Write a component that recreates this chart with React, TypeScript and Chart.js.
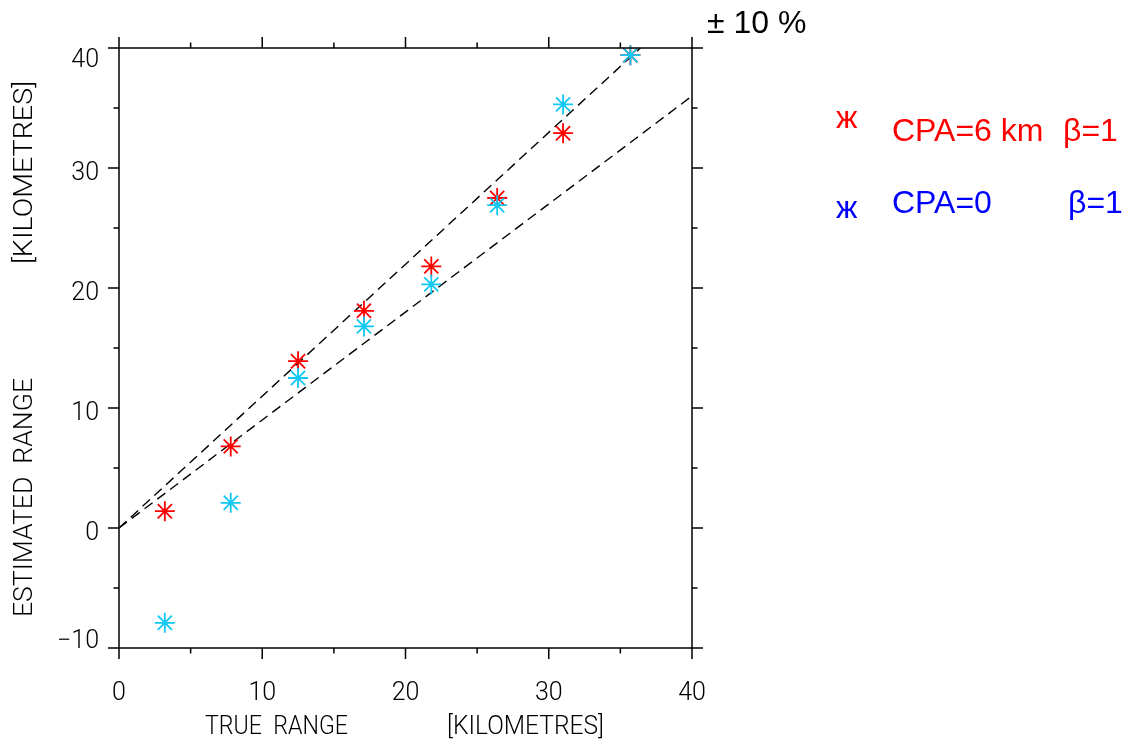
import { useEffect, useRef } from 'react';
import { Chart, registerables } from 'chart.js';

Chart.register(...registerables);

// ---- data ----
const trueRange = [3.2, 7.8, 12.5, 17.1, 21.8, 26.4, 31.0, 35.7];
const estimatedCpa6 = [1.4, 6.8, 13.9, 18.1, 21.8, 27.5, 32.9, 39.4];
const estimatedCpa0 = [-7.9, 2.1, 12.5, 16.8, 20.3, 26.9, 35.3, 39.4];

const upperBoundX = [0, 36.4];
const upperBoundY = [0, 40];
const lowerBoundX = [0, 40];
const lowerBoundY = [0, 36];

const xMajorTicks = [0, 10, 20, 30, 40];
const xMinorTicks = [5, 15, 25, 35];
const yMajorTicks = [-10, 0, 10, 20, 30, 40];
const yMinorTicks = [-5, 5, 15, 25, 35];
const xTickLabels = ['0', '10', '20', '30', '40'];
const yTickLabels = ['\u221210', '0', '10', '20', '30', '40'];

const legendNames = ['CPA=6 km', 'CPA=0'];
const legendBetas = ['\u03b2=1', '\u03b2=1'];
const boundsLabel = '\u00b1 10 %';
const xTitleParts = ['TRUE  RANGE', '[KILOMETRES]'];
const yTitleParts = ['ESTIMATED  RANGE', '[KILOMETRES]'];

const RED = '#ff0000';
const CYAN = '#10c8f4';
const BLUE = '#0000ff';
const AXIS_FONT = '300 25px Roboto, "DejaVu Sans", sans-serif';
const TITLE_FONT = '300 25px Roboto, "DejaVu Sans", sans-serif';
const LEGEND_FONT = '32px "Liberation Sans", Arial, sans-serif';

function fitText(ctx: CanvasRenderingContext2D, text: string, x: number, y: number, w: number) {
  const m = ctx.measureText(text).width;
  ctx.save();
  ctx.translate(x, y);
  ctx.scale(w / m, 1);
  ctx.fillText(text, 0, 0);
  ctx.restore();
}

const framePlugin = {
  id: 'framePlugin',
  afterDraw(chart: any) {
    const ctx: CanvasRenderingContext2D = chart.ctx;
    const { left, right, top, bottom } = chart.chartArea;
    const xs = chart.scales.x;
    const ys = chart.scales.y;
    const MAJ = 11;
    const MIN = 5.5;
    ctx.save();
    ctx.strokeStyle = '#000';
    ctx.lineWidth = 1.5;
    ctx.lineCap = 'butt';
    ctx.beginPath();
    ctx.rect(left, top, right - left, bottom - top);
    const tickX = (v: number, len: number) => {
      const px = xs.getPixelForValue(v);
      ctx.moveTo(px, bottom);
      ctx.lineTo(px, bottom + len);
      ctx.moveTo(px, top);
      ctx.lineTo(px, top - len);
    };
    const tickY = (v: number, len: number) => {
      const py = ys.getPixelForValue(v);
      ctx.moveTo(left, py);
      ctx.lineTo(left - len, py);
      ctx.moveTo(right, py);
      ctx.lineTo(right + len, py);
    };
    xMajorTicks.forEach((v) => tickX(v, MAJ));
    xMinorTicks.forEach((v) => tickX(v, MIN));
    yMajorTicks.forEach((v) => tickY(v, MAJ));
    yMinorTicks.forEach((v) => tickY(v, MIN));
    ctx.stroke();

    // tick labels
    ctx.fillStyle = '#000';
    ctx.font = AXIS_FONT;
    ctx.textBaseline = 'alphabetic';
    ctx.textAlign = 'center';
    xMajorTicks.forEach((v, i) => {
      ctx.fillText(xTickLabels[i], xs.getPixelForValue(v), 700);
    });
    ctx.textAlign = 'right';
    const capH = 18;
    yMajorTicks.forEach((v, i) => {
      const py = ys.getPixelForValue(v);
      let base = py + 11.5;
      if (base - capH < top) base = top + capH + 1;
      if (base > bottom) base = bottom;
      ctx.fillText(yTickLabels[i], 99, base);
    });

    // axis titles
    ctx.font = TITLE_FONT;
    ctx.textAlign = 'left';
    fitText(ctx, xTitleParts[0], 205, 734, 143);
    fitText(ctx, xTitleParts[1], 447, 734, 157);
    ctx.save();
    ctx.translate(32, 617);
    ctx.rotate(-Math.PI / 2);
    fitText(ctx, yTitleParts[0], 0, 0, 239);
    ctx.restore();
    ctx.save();
    ctx.translate(32, 264);
    ctx.rotate(-Math.PI / 2);
    fitText(ctx, yTitleParts[1], 0, 0, 183);
    ctx.restore();

    // bounds label
    ctx.font = LEGEND_FONT;
    ctx.fillStyle = '#000';
    ctx.fillText(boundsLabel, 707, 33);

    // legend
    const rows = [
      { color: RED, symY: 128, textY: 141, betaX: 1063 },
      { color: BLUE, symY: 218, textY: 213, betaX: 1068 },
    ];
    rows.forEach((r, i) => {
      ctx.fillStyle = r.color;
      ctx.fillText('\u0436', 836, r.symY);
      ctx.fillText(legendNames[i], 892, r.textY);
      ctx.fillText(legendBetas[i], r.betaX, r.textY);
    });
    ctx.restore();
  },
};

export default function App() {
  const ref = useRef<HTMLCanvasElement | null>(null);
  useEffect(() => {
    if (!ref.current) return;
    const pts = (xsArr: number[], ysArr: number[]) => xsArr.map((x, i) => ({ x, y: ysArr[i] }));
    const chart = new Chart(ref.current, {
      type: 'scatter',
      data: {
        datasets: [
          {
            label: 'CPA=0',
            data: pts(trueRange, estimatedCpa0),
            pointStyle: 'star',
            pointRadius: 10,
            borderColor: CYAN,
            backgroundColor: CYAN,
            borderWidth: 1.8,
            showLine: false,
            clip: false,
            order: 0,
          },
          {
            label: 'CPA=6 km',
            data: pts(trueRange, estimatedCpa6),
            pointStyle: 'star',
            pointRadius: 10,
            borderColor: RED,
            backgroundColor: RED,
            borderWidth: 1.8,
            showLine: false,
            clip: false,
            order: 1,
          },
          {
            label: '+10%',
            data: pts(upperBoundX, upperBoundY),
            showLine: true,
            borderColor: '#000',
            borderWidth: 1.4,
            borderDash: [10, 6],
            pointRadius: 0,
            fill: false,
            order: 2,
          },
          {
            label: '-10%',
            data: pts(lowerBoundX, lowerBoundY),
            showLine: true,
            borderColor: '#000',
            borderWidth: 1.4,
            borderDash: [10, 6],
            pointRadius: 0,
            fill: false,
            order: 3,
          },
        ],
      } as any,
      options: {
        animation: false,
        responsive: false,
        devicePixelRatio: 1,
        events: [],
        layout: { padding: { left: 119, top: 48, right: 430, bottom: 97 } },
        plugins: { legend: { display: false }, tooltip: { enabled: false }, title: { display: false } },
        scales: {
          x: { type: 'linear', min: 0, max: 40, display: false },
          y: { type: 'linear', min: -10, max: 40, display: false },
        },
      } as any,
      plugins: [framePlugin],
    });
    return () => chart.destroy();
  }, []);
  return (
    <div style={{ position: 'absolute', left: 0, top: 0, width: 1122, height: 745, background: '#fff' }}>
      <canvas ref={ref} width={1122} height={745} style={{ width: 1122, height: 745 }} />
    </div>
  );
}
